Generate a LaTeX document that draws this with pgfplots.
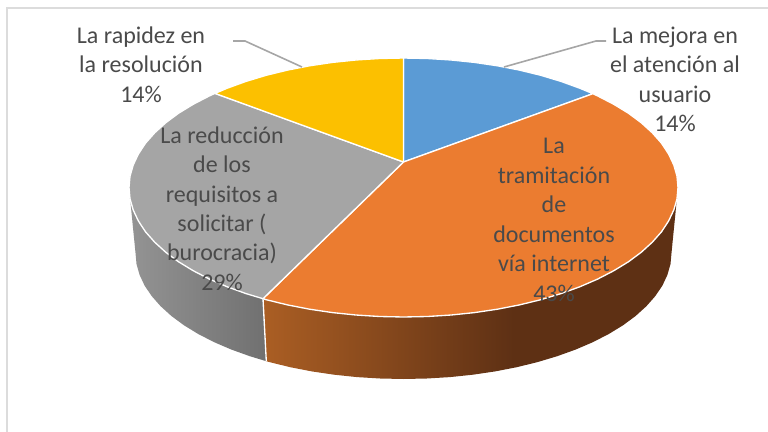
\documentclass[border=0pt]{standalone}
\usepackage{fontspec}
\setmainfont{Carlito}
\usepackage{pgfplots}
\pgfplotsset{compat=1.18}
\definecolor{pieblue}{HTML}{5B9BD5}
\definecolor{pieorange}{HTML}{EB7C30}
\definecolor{piegrey}{HTML}{A5A5A5}
\definecolor{pieyellow}{HTML}{FCC000}
\definecolor{labeltext}{HTML}{4A4A4A}
\definecolor{leader}{HTML}{A6A6A6}
\definecolor{frameline}{HTML}{DCDCDC}
% side walls: the middle 50bp of the shading is fitted to the path
\pgfdeclarehorizontalshading{brownside}{100bp}{rgb(0bp)=(.67,.37,.14); rgb(25bp)=(.67,.37,.14); rgb(55bp)=(.37,.19,.08); rgb(100bp)=(.37,.19,.08)}
\pgfdeclarehorizontalshading{greyside}{100bp}{rgb(0bp)=(.58,.58,.58); rgb(25bp)=(.58,.58,.58); rgb(75bp)=(.44,.44,.44); rgb(100bp)=(.44,.44,.44)}
\tikzset{lab/.style={text=labeltext, align=center, anchor=center, inner sep=0pt,
    font=\fontsize{18}{22.1}\selectfont}}

\begin{document}
\begin{tikzpicture}
\begin{axis}[
  scale only axis, width=576pt, height=324pt,
  xmin=0, xmax=768, ymin=0, ymax=432, y dir=reverse,
  hide axis, clip=true,
  every axis plot/.append style={no markers, forget plot}
]
% keeps the page as large as the whole chart
\addplot[draw=none] coordinates {(0,0) (768,432)};
% frame of the chart area
\addplot[frameline, line width=1.5pt] coordinates {(7,432) (7,8) (768,8)};

% orange wall
\addplot[shading=brownside, draw=none] coordinates {
 (678,187.5) (671.5,253) (670.5,264) (667.4,274.9) (662.4,285.6) (655.3,296.1)
 (646.4,306.2) (635.6,316) (623,325.3) (608.8,334) (593,342.1) (575.8,349.5)
 (557.2,356.2) (537.5,362.1) (516.8,367.2) (495.2,371.4) (472.9,374.7) (450,377.1)
 (426.9,378.5) (403.5,379) (380.1,378.5) (357,377.1) (334.1,374.7) (311.8,371.4)
 (290.2,367.2) (269.5,362.1) (266.3,361.2)
 (263,298.7) (266.2,299.7) (287.5,304.9) (309.6,309.2) (332.5,312.6) (355.8,315)
 (379.6,316.5) (403.5,317) (427.4,316.5) (451.2,315) (474.5,312.6) (497.4,309.2)
 (519.5,304.9) (540.8,299.7) (561,293.6) (580,286.7) (597.6,279.1) (613.8,270.7)
 (628.4,261.8) (641.2,252.3) (652.3,242.2) (661.5,231.8) (668.6,221) (673.8,210)
 (677,198.8) (678,187.5)};

% grey wall
\addplot[shading=greyside, draw=none] coordinates {
 (129,187.5) (135.5,253) (136.5,264) (139.6,274.9) (144.6,285.6) (151.7,296.1)
 (160.6,306.2) (171.4,316) (184,325.3) (198.2,334) (214,342.1) (231.2,349.5)
 (249.8,356.2) (266.3,361.2)
 (263,298.7) (246,293.6) (227,286.7) (209.4,279.1) (193.2,270.7) (178.6,261.8)
 (165.8,252.3) (154.7,242.2) (145.5,231.8) (138.4,221) (133.2,210) (130,198.8)
 (129,187.5)};

% white edge between the two walls
\addplot[white, line width=1pt] coordinates {(263,298.7) (266.3,361.2)};

% top faces
\addplot[fill=pieblue, draw=white, line width=1pt] coordinates {
 (403.5,162) (403.5,58) (427.4,58.5) (451.2,60) (474.5,62.4) (497.4,65.8)
 (519.5,70.1) (540.8,75.3) (561,81.4) (580,88.3) (592.9,93.7) (403.5,162)};

\addplot[fill=pieorange, draw=white, line width=1pt] coordinates {
 (403.5,162) (592.9,93.7) (597.6,95.9) (613.8,104.3) (628.4,113.2) (641.2,122.7)
 (652.3,132.8) (661.5,143.2) (668.6,154) (673.8,165) (677,176.2) (678,187.5)
 (677,198.8) (673.8,210) (668.6,221) (661.5,231.8) (652.3,242.2) (641.2,252.3)
 (628.4,261.8) (613.8,270.7) (597.6,279.1) (580,286.7) (561,293.6) (540.8,299.7)
 (519.5,304.9) (497.4,309.2) (474.5,312.6) (451.2,315) (427.4,316.5) (403.5,317)
 (379.6,316.5) (355.8,315) (332.5,312.6) (309.6,309.2) (287.5,304.9) (266.2,299.7)
 (263,298.7) (403.5,162)};

\addplot[fill=piegrey, draw=white, line width=1pt] coordinates {
 (403.5,162) (263,298.7) (246,293.6) (227,286.7) (209.4,279.1) (193.2,270.7)
 (178.6,261.8) (165.8,252.3) (154.7,242.2) (145.5,231.8) (138.4,221) (133.2,210)
 (130,198.8) (129,187.5) (130,176.2) (133.2,165) (138.4,154) (145.5,143.2)
 (154.7,132.8) (165.8,122.7) (178.6,113.2) (193.2,104.3) (209.4,95.9) (215,93.4)
 (403.5,162)};

\addplot[fill=pieyellow, draw=white, line width=1pt] coordinates {
 (403.5,162) (215,93.4) (227,88.3) (246,81.4) (266.2,75.3) (287.5,70.1)
 (309.6,65.8) (332.5,62.4) (355.8,60) (379.6,58.5) (403.5,58) (403.5,162)};

% leader lines
\addplot[leader, line width=1.2pt] coordinates {(233,41) (245,41) (302,67)};
\addplot[leader, line width=1.2pt] coordinates {(606,41) (596,41) (504,67)};

% data labels
\node[lab] at (axis cs:141,64.5) {La rapidez en\\la resolución\\14\%};
\node[lab] at (axis cs:675,79.5) {La mejora en\\el atención al\\usuario\\14\%};
\node[lab] at (axis cs:554,220) {La\\tramitación\\de\\documentos\\vía internet\\43\%};
\node[lab] at (axis cs:222,208.5) {La reducción\\de los\\requisitos a\\solicitar (\\burocracia)\\29\%};
\end{axis}
\end{tikzpicture}
\end{document}
